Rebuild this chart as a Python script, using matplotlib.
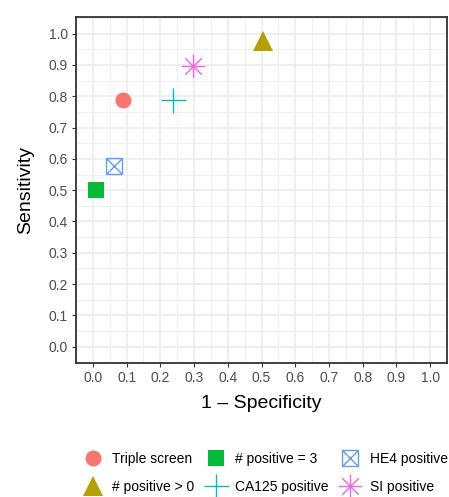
import matplotlib
matplotlib.use("Agg")
import matplotlib.pyplot as plt
from matplotlib.path import Path
from matplotlib.ticker import MultipleLocator, FormatStrFormatter
import numpy as np

plt.rcParams['font.family'] = ['Liberation Sans', 'DejaVu Sans']

labels = ["Triple screen", "# positive > 0", "# positive = 3", "CA125 positive", "HE4 positive", "SI positive"]
fpr = [0.088, 0.504, 0.008, 0.239, 0.064, 0.296]
sens = [0.788, 0.975, 0.501, 0.788, 0.577, 0.896]
colors = ["#F8766D", "#B79F00", "#00BA38", "#00BFC4", "#619CFF", "#F564E3"]

boxx = Path([(-1, -1), (1, -1), (1, 1), (-1, 1), (-1, -1), (-1, -1), (1, 1), (-1, 1), (1, -1)],
            [Path.MOVETO, Path.LINETO, Path.LINETO, Path.LINETO, Path.CLOSEPOLY,
             Path.MOVETO, Path.LINETO, Path.MOVETO, Path.LINETO])
ast_v, ast_c = [], []
for ang in [0, 45, 90, 135]:
    a = np.deg2rad(ang)
    ast_v += [(-np.cos(a), -np.sin(a)), (np.cos(a), np.sin(a))]
    ast_c += [Path.MOVETO, Path.LINETO]
aster = Path(ast_v, ast_c)

styles = [
    dict(marker='o', ms=11.5, mew=0),
    dict(marker='^', ms=14.5, mew=0),
    dict(marker='s', ms=11.5, mew=0),
    dict(marker='+', ms=18, mew=1.0),
    dict(marker=boxx, ms=11.5, mfc='none', mew=1.0),
    dict(marker=aster, ms=17, mew=1.0),
]

fig = plt.figure(figsize=(4.49, 4.97), dpi=100)
ax = fig.add_axes([76/449, 1-363/497, (447-76)/449, (363-17)/497])

for lab, x, y, c, st in zip(labels, fpr, sens, colors, styles):
    ax.plot([x], [y], linestyle='none', color=c, label=lab, **st)

ax.set_xlim(-0.05, 1.05)
ax.set_ylim(-0.052, 1.053)
ax.xaxis.set_major_locator(MultipleLocator(0.1))
ax.yaxis.set_major_locator(MultipleLocator(0.1))
ax.xaxis.set_minor_locator(MultipleLocator(0.05))
ax.yaxis.set_minor_locator(MultipleLocator(0.05))
ax.xaxis.set_major_formatter(FormatStrFormatter('%.1f'))
ax.yaxis.set_major_formatter(FormatStrFormatter('%.1f'))
ax.grid(which='major', color='#EBEBEB', lw=1.1)
ax.grid(which='minor', color='#EBEBEB', lw=0.55)
ax.set_axisbelow(True)
ax.tick_params(which='major', length=3, width=0.8, color='#333333', labelcolor='#4D4D4D', labelsize=10, pad=3)
ax.tick_params(which='minor', length=0)
for s in ax.spines.values():
    s.set_color('#333333')
    s.set_linewidth(1.3)

ax.set_xlabel("1 \u2013 Specificity", fontsize=14, labelpad=7)
ax.set_ylabel("Sensitivity", fontsize=14, labelpad=10)

h, l = ax.get_legend_handles_labels()
fig.legend(h, l, loc='upper left', bbox_to_anchor=(69/449, 1-439/497), ncol=3, frameon=False,
           fontsize=10, handlelength=1.6, handletextpad=0.6, columnspacing=0.75, labelspacing=1.05)

fig.savefig("out.png", dpi=100)
